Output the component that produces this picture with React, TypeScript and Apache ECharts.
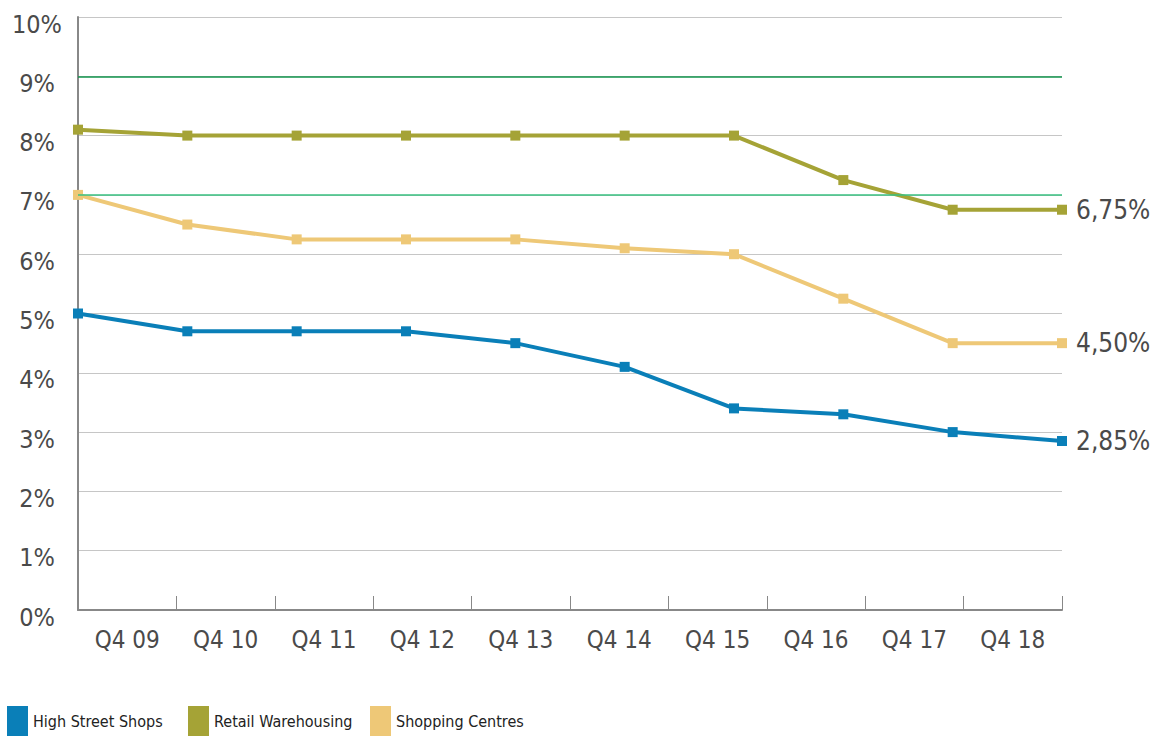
import React, { useEffect, useRef } from "react";
import * as echarts from "echarts";

const categories = ["Q4 09", "Q4 10", "Q4 11", "Q4 12", "Q4 13", "Q4 14", "Q4 15", "Q4 16", "Q4 17", "Q4 18"];
const highStreet = [5.0, 4.7, 4.7, 4.7, 4.5, 4.1, 3.4, 3.3, 3.0, 2.85];
const retailWarehousing = [8.1, 8.0, 8.0, 8.0, 8.0, 8.0, 8.0, 7.25, 6.75, 6.75];
const shoppingCentres = [7.0, 6.5, 6.25, 6.25, 6.25, 6.1, 6.0, 5.25, 4.5, 4.5];
const seriesNames = ["High Street Shops", "Retail Warehousing", "Shopping Centres"];
const colors = ["#0a7fb8", "#a5a336", "#eec877"];
const greenLineA = 9;
const greenLineB = 7;

const FONT = "'DejaVu Sans Condensed', 'DejaVu Sans', sans-serif";
const TEXT = "#4a4a4a";

export default function App() {
  const ref = useRef<HTMLDivElement>(null);
  useEffect(() => {
    if (!ref.current) return;
    const chart = echarts.init(ref.current, undefined, { renderer: "svg" });
    const fmt = (v: number) => v.toFixed(2).replace(".", ",") + "%";
    const mk = (name: string, data: number[], color: string, green: number | null, greenColor: string) => {
      const s: any = {
        name,
        type: "line",
        xAxisIndex: 1,
        data,
        color,
        z: 3,
        symbol: "rect",
        symbolSize: 10,
        lineStyle: { width: 4, color },
        itemStyle: { color },
        endLabel: {
          show: true,
          distance: 14,
          formatter: (p: any) => fmt(p.value),
          fontFamily: FONT,
          fontSize: 26,
          color: TEXT,
        },
      };
      if (green !== null) {
        s.markLine = {
          silent: true,
          symbol: ["none", "none"],
          label: { show: false },
          lineStyle: { color: greenColor, width: 1.5, type: "solid", opacity: 1 },
          emphasis: { disabled: true },
          data: [{ yAxis: green }],
        };
      }
      return s;
    };
    const legendLefts = [7, 188, 370];
    chart.setOption({
      animation: false,
      textStyle: { fontFamily: FONT },
      grid: { left: 78, right: 95, top: 17, bottom: 126 },
      legend: seriesNames.map((n, i) => ({
        data: [n],
        left: legendLefts[i],
        top: 706,
        padding: 0,
        icon: "rect",
        itemWidth: 21,
        itemHeight: 30,
        textStyle: { fontFamily: FONT, fontSize: 16, color: "#222", padding: [4, 0, 0, 0] },
        selectedMode: false,
      })),
      xAxis: [
        {
          type: "category",
          data: categories,
          boundaryGap: true,
          axisLine: { lineStyle: { color: "#888", width: 2 } },
          axisTick: { show: true, inside: true, length: 14, lineStyle: { color: "#888", width: 1 } },
          axisLabel: { fontFamily: FONT, fontSize: 24, color: TEXT, margin: 18 },
          splitLine: { show: false },
        },
        {
          type: "category",
          data: categories,
          boundaryGap: false,
          show: false,
        },
      ],
      yAxis: {
        type: "value",
        min: 0,
        max: 10,
        interval: 1,
        axisLine: { show: true, lineStyle: { color: "#888", width: 2 } },
        axisTick: { show: false },
        axisLabel: {
          fontFamily: FONT,
          fontSize: 25,
          color: TEXT,
          margin: 41,
          align: "center",
          verticalAlign: "top",
          lineHeight: 14,
          formatter: (v: number) => v + "%",
        },
        splitLine: {
          show: true,
          lineStyle: { width: 1, color: "#c6c6c6" },
        },
      },
      series: [
        mk(seriesNames[0], highStreet, colors[0], greenLineA, "#12944c"),
        mk(seriesNames[1], retailWarehousing, colors[1], greenLineB, "#38c080"),
        mk(seriesNames[2], shoppingCentres, colors[2], null, ""),
      ],
    });
    return () => chart.dispose();
  }, []);
  return <div ref={ref} style={{ width: 1157, height: 736, position: "absolute", left: 0, top: 0 }} />;
}
